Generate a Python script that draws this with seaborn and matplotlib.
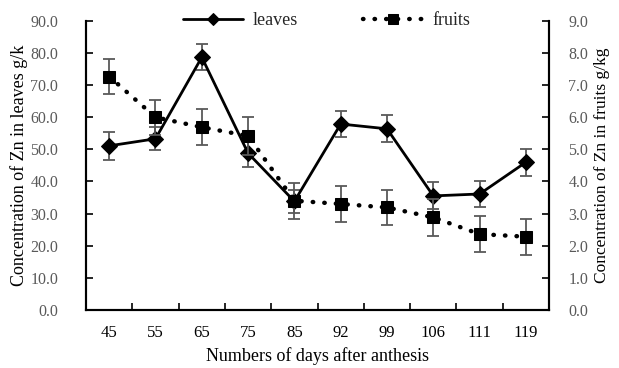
import matplotlib
matplotlib.use("Agg")
import matplotlib.pyplot as plt
import seaborn as sns
import numpy as np
import pandas as pd

days = ["45", "55", "65", "75", "85", "92", "99", "106", "111", "119"]
leaves = [51.1, 53.3, 78.7, 48.8, 33.8, 57.9, 56.4, 35.5, 36.1, 46.0]
leaves_err = [4.3, 3.6, 4.0, 4.2, 3.5, 4.2, 4.2, 4.2, 4.0, 4.2]
fruits = [7.27, 6.0, 5.69, 5.42, 3.40, 3.30, 3.19, 2.88, 2.36, 2.28]
fruits_err = [0.55, 0.55, 0.56, 0.58, 0.56, 0.55, 0.55, 0.57, 0.57, 0.56]

sns.set_theme(style="white")
plt.rcParams['font.family'] = ['Liberation Serif', 'DejaVu Serif']

pos = np.arange(len(days))
df = pd.DataFrame({"pos": pos, "leaves": leaves, "fruits": fruits})

fig = plt.figure(figsize=(6.19, 3.68), dpi=100)
ax = fig.add_axes([0.139, 0.158, 0.748, 0.785])
ax2 = ax.twinx()

grey = "#595959"
ax.errorbar(pos, leaves, yerr=leaves_err, fmt='none', ecolor=grey, elinewidth=1.3, capsize=4.5, capthick=1.3, zorder=2)
ax2.errorbar(pos, fruits, yerr=fruits_err, fmt='none', ecolor=grey, elinewidth=1.3, capsize=4.5, capthick=1.3, zorder=2)

sns.lineplot(data=df, x="pos", y="leaves", ax=ax, color="black", linewidth=2, marker="D",
             markersize=8, markeredgecolor="black", label="leaves", legend=False, zorder=3)
sns.lineplot(data=df, x="pos", y="fruits", ax=ax2, color="black", linewidth=3.2, marker="s",
             markersize=8.5, markeredgecolor="black", label="fruits", legend=False,
             linestyle=(0, (0.1, 2.5)), zorder=3)
for l in ax2.get_lines():
    l.set_dash_capstyle("round")

ax.set_xlim(-0.5, len(days) - 0.5)
ax.set_ylim(0, 90)
ax2.set_ylim(0, 9)
ax.set_yticks(np.arange(0, 91, 10))
ax.set_yticklabels([f"{v:.1f}" for v in np.arange(0, 91, 10)])
ax2.set_yticks(np.arange(0, 9.1, 1))
ax2.set_yticklabels([f"{v:.1f}" for v in np.arange(0, 9.1, 1)])

ax.set_xticks(pos)
ax.set_xticklabels(days)
ax.set_xticks(np.arange(0.5, len(days) - 1, 1), minor=True)
ax.tick_params(axis='x', which='major', length=0, labelsize=12, colors="black", pad=11)
ax.tick_params(axis='x', which='minor', direction='in', length=5, width=1.2, color="black", bottom=True)
ax.tick_params(axis='y', direction='in', length=5, width=1.2, color="black", labelsize=11.5, labelcolor=grey, left=True, pad=20)
ax2.tick_params(axis='y', direction='in', length=5, width=1.2, color="black", labelsize=11.5, labelcolor=grey, right=True, pad=14)

for a in (ax, ax2):
    a.spines['top'].set_visible(False)
    for s in ('left', 'right', 'bottom'):
        a.spines[s].set_color("black")
        a.spines[s].set_linewidth(1.5)

ax.set_xlabel("Numbers of days after anthesis", fontsize=13, color="black", labelpad=4)
ax.set_ylabel("Concentration of Zn in leaves g/k", fontsize=13, color="black", labelpad=2)
ax2.set_ylabel("Concentration of Zn in fruits g/kg", fontsize=12.5, color="black", labelpad=4)

h1 = ax.get_lines()[-1]
h2 = ax2.get_lines()[-1]
leg = ax2.legend([h1, h2], ["leaves", "fruits"], loc="center", bbox_to_anchor=(0.52, 1.0),
                 ncol=2, frameon=True, fontsize=13, handlelength=3.3, columnspacing=3.6,
                 borderaxespad=0, handletextpad=0.55, markerscale=0.8)
leg.get_frame().set_facecolor("white")
leg.get_frame().set_edgecolor("white")
leg.set_zorder(10)

fig.savefig("out.png", dpi=100)
